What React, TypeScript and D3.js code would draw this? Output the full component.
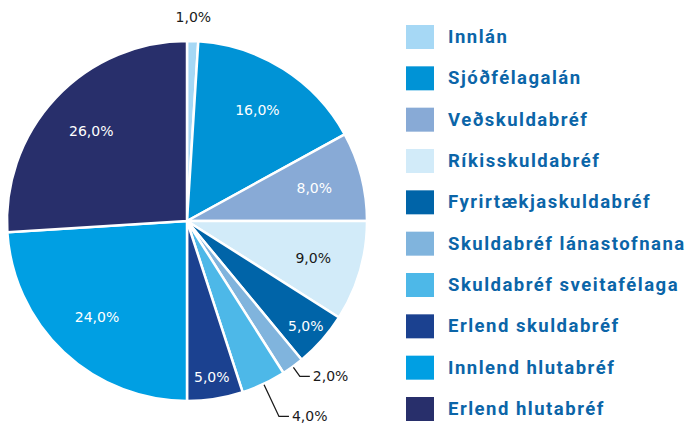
import React from "react";
import * as d3 from "d3";

const categories = [
  "Innlán",
  "Sjóðfélagalán",
  "Veðskuldabréf",
  "Ríkisskuldabréf",
  "Fyrirtækjaskuldabréf",
  "Skuldabréf lánastofnana",
  "Skuldabréf sveitafélaga",
  "Erlend skuldabréf",
  "Innlend hlutabréf",
  "Erlend hlutabréf",
];
const values = [1, 16, 8, 9, 5, 2, 4, 5, 24, 26];
const colors = [
  "#a6d8f5",
  "#0093d6",
  "#88aad6",
  "#d2ebf9",
  "#0064a8",
  "#80b4dd",
  "#4db8e8",
  "#1b4190",
  "#009fe3",
  "#282f6b",
];
const darkLabelOn = ["#d2ebf9"];

const W = 691;
const H = 423;
const cx = 187;
const cy = 221;
const R = 180;

const fmt = (v: number) => v.toFixed(1).replace(".", ",") + "%";

export default function App() {
  const pie = d3.pie<number>().sort(null).value((d) => d);
  const arcs = pie(values);
  const arcGen = d3.arc<d3.PieArcDatum<number>>().innerRadius(0).outerRadius(R);

  const legendY = d3
    .scalePoint<string>()
    .domain(categories)
    .range([37, 409]);

  let leaderCount = 0;
  const labels = arcs.map((a, i) => {
    const mid = (a.startAngle + a.endAngle) / 2;
    const sx = Math.sin(mid);
    const sy = -Math.cos(mid);
    const v = values[i];
    if (v >= 5) {
      const lr = v >= 8 ? R * 0.73 : R * 0.88;
      const fill = darkLabelOn.includes(colors[i]) ? "#1a1a1a" : "#ffffff";
      return (
        <text
          key={"l" + i}
          x={cx + sx * lr}
          y={cy + sy * lr}
          textAnchor="middle"
          dominantBaseline="central"
          fontFamily="DejaVu Sans, sans-serif"
          fontSize={14}
          fill={fill}
        >
          {fmt(v)}
        </text>
      );
    }
    if (Math.abs(mid) < 0.2) {
      const lr = R + 24;
      return (
        <text
          key={"l" + i}
          x={cx + sx * lr}
          y={cy + sy * lr}
          textAnchor="middle"
          dominantBaseline="central"
          fontFamily="DejaVu Sans, sans-serif"
          fontSize={14}
          fill="#1a1a1a"
        >
          {fmt(v)}
        </text>
      );
    }
    const er = R + 12 + 24 * leaderCount;
    leaderCount++;
    const x0 = cx + sx * (R + 1);
    const y0 = cy + sy * (R + 1);
    const x1 = cx + sx * er;
    const y1 = cy + sy * er;
    const x2 = x1 + 10;
    return (
      <g key={"l" + i}>
        <polyline
          points={`${x0},${y0} ${x1},${y1} ${x2},${y1}`}
          fill="none"
          stroke="#1a1a1a"
          strokeWidth={1.3}
        />
        <text
          x={x2 + 3}
          y={y1}
          textAnchor="start"
          dominantBaseline="central"
          fontFamily="DejaVu Sans, sans-serif"
          fontSize={14}
          fill="#1a1a1a"
        >
          {fmt(v)}
        </text>
      </g>
    );
  });

  return (
    <svg
      width={W}
      height={H}
      style={{ position: "absolute", left: 0, top: 0, background: "#ffffff" }}
    >
      <g transform={`translate(${cx},${cy})`}>
        {arcs.map((a, i) => (
          <path
            key={i}
            d={arcGen(a) || ""}
            fill={colors[i]}
            stroke="#ffffff"
            strokeWidth={2.5}
            strokeLinejoin="round"
          />
        ))}
      </g>
      {labels}
      {categories.map((c, i) => {
        const y = legendY(c) as number;
        return (
          <g key={c}>
            <rect x={406} y={y - 12} width={28} height={24} fill={colors[i]} />
            <text
              x={448}
              y={y}
              dominantBaseline="central"
              fontFamily="Roboto, sans-serif"
              fontWeight="bold"
              fontSize={18.5}
              letterSpacing={1.5}
              fill="#0b65a8"
            >
              {c}
            </text>
          </g>
        );
      })}
    </svg>
  );
}
